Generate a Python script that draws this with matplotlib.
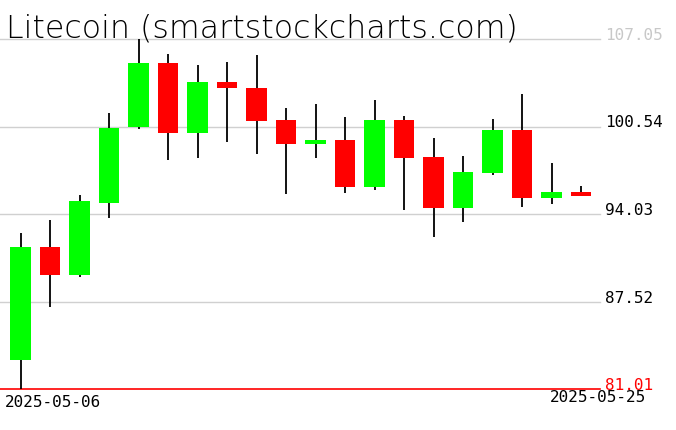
import matplotlib
matplotlib.use("Agg")
import matplotlib.pyplot as plt
import numpy as np

# daily OHLC
dates = ["2025-05-06", "2025-05-07", "2025-05-08", "2025-05-09", "2025-05-10",
         "2025-05-11", "2025-05-12", "2025-05-13", "2025-05-14", "2025-05-15",
         "2025-05-16", "2025-05-17", "2025-05-18", "2025-05-19", "2025-05-20",
         "2025-05-21", "2025-05-22", "2025-05-23", "2025-05-24", "2025-05-25"]
opens = [83.17, 91.57, 89.51, 94.87, 100.53, 105.26, 100.08, 103.85, 103.40, 101.02,
         99.26, 99.54, 96.06, 101.02, 98.27, 94.50, 97.10, 100.28, 95.24, 95.67]
highs = [92.62, 93.58, 95.44, 101.54, 107.05, 105.93, 105.12, 105.36, 105.86, 101.92,
         102.21, 101.25, 102.51, 101.32, 99.68, 98.35, 101.10, 102.96, 97.82, 96.11]
lows = [81.01, 87.13, 89.37, 93.75, 100.38, 98.07, 98.22, 99.41, 98.52, 95.54,
        98.22, 95.61, 95.84, 94.35, 92.34, 93.46, 96.95, 94.57, 94.80, 95.39]
closes = [91.57, 89.51, 95.00, 100.43, 105.26, 100.08, 103.85, 103.43, 100.97, 99.26,
          99.54, 96.06, 101.02, 98.22, 94.50, 97.15, 100.28, 95.24, 95.67, 95.39]

levels = [107.05, 100.54, 94.03, 87.52, 81.01]
title = "Litecoin (smartstockcharts.com)"

W, H = 676, 431
fig = plt.figure(figsize=(W / 100, H / 100), dpi=100)
ax = fig.add_axes([0, 41 / H, 600 / W, 350 / H])
ax.set_axis_off()

x = np.arange(len(dates))
o = np.array(opens)
c = np.array(closes)
up = c >= o
colors = np.where(up, "#00ff00", "#ff0000")

# grid lines and red floor line
for lv in levels[:-1]:
    ax.axhline(lv, color="#d0d0d0", lw=1, zorder=0, clip_on=False)
ax.axhline(levels[-1], color="#ff0000", lw=1.2, zorder=0, clip_on=False)

ax.vlines(x, lows, highs, color="black", lw=1.3, zorder=1)
bottoms = np.minimum(o, c)
heights = np.maximum(np.abs(c - o), 0.25)
ax.bar(x, heights, bottom=bottoms, width=0.71, color=colors, zorder=2)

ax.set_xlim((0 - 20.5) / 29.5, (600 - 20.5) / 29.5)
ax.set_ylim(levels[-1], levels[0])

# price labels on the right
label_colors = ["#c8c8c8", "black", "black", "black", "#ff0000"]
for lv, col in zip(levels, label_colors):
    ax.text(1.008, lv, f"{lv:.2f}", transform=ax.get_yaxis_transform(),
            ha="left", va="baseline", fontsize=11.5, color=col,
            family="DejaVu Sans Mono", clip_on=False)

fig.text(5 / W, 1 - 407 / H, dates[0], ha="left", va="baseline",
         fontsize=11.5, family="DejaVu Sans Mono")
fig.text(646 / W, 1 - 402 / H, dates[-1], ha="right", va="baseline",
         fontsize=11.5, family="DejaVu Sans Mono")

fig.text(6 / W, 1 - 38 / H, title, ha="left", va="baseline",
         fontsize=22.8, fontweight="light", color="black", family="DejaVu Sans")

fig.savefig("out.png", dpi=100)
